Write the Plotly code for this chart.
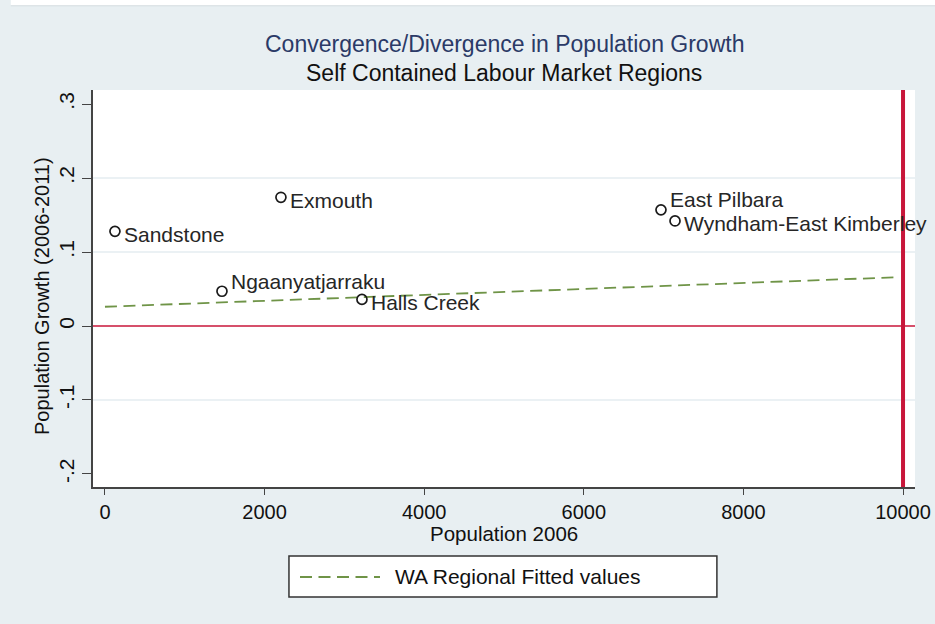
import plotly.graph_objects as go

# Regions: 2006 population and 2006-2011 population growth
regions = ["Sandstone", "Exmouth", "Ngaanyatjarraku", "Halls Creek",
           "East Pilbara", "Wyndham-East Kimberley"]
population_2006 = [125, 2205, 1466, 3220, 6967, 7143]
growth = [0.128, 0.174, 0.047, 0.036, 0.157, 0.142]
# Label placement: raised labels sit above-right of their marker
label_raised = [False, False, True, False, True, False]

# WA regional fitted values (linear fit endpoints)
fit_x = [0, 9950]
fit_y = [0.026, 0.066]

y_ticks = [-0.2, -0.1, 0, 0.1, 0.2, 0.3]
y_tick_text = ["-.2", "-.1", "0", ".1", ".2", ".3"]
x_ticks = [0, 2000, 4000, 6000, 8000, 10000]
x_tick_text = ["0", "2000", "4000", "6000", "8000", "10000"]
grid_y = [-0.1, 0.1, 0.2]
ref_x = 10000
ref_y = 0

BG = "#e8eff2"
FONT = "Liberation Sans, Arial, sans-serif"
GREEN = "#6f9447"
RED = "#c8163a"
DASH = "12px,6.5px"

fig = go.Figure()

fig.add_trace(go.Scatter(
    x=fit_x, y=fit_y, mode="lines", name="WA Regional Fitted values",
    line=dict(color=GREEN, width=1.8, dash=DASH), showlegend=False))

fig.add_trace(go.Scatter(
    x=population_2006, y=growth, mode="markers", text=regions,
    marker=dict(symbol="circle-open", size=10, color="#1a1a1a",
                line=dict(width=1.7, color="#1a1a1a")),
    showlegend=False, cliponaxis=False))

shapes = []
for g in grid_y:
    shapes.append(dict(type="line", xref="paper", x0=0, x1=1, yref="y", y0=g, y1=g,
                       line=dict(color="#e4edf0", width=1.5), layer="below"))
shapes.append(dict(type="line", xref="paper", x0=0, x1=1, yref="y", y0=ref_y, y1=ref_y,
                   line=dict(color=RED, width=1.5)))
shapes.append(dict(type="line", xref="x", x0=ref_x, x1=ref_x, yref="paper", y0=0, y1=1,
                   line=dict(color=RED, width=4)))
# Legend box
shapes.append(dict(type="rect", xref="paper", yref="paper",
                   x0=0.2384, x1=0.759, y0=-0.277, y1=-0.1738,
                   line=dict(color="#333333", width=1.5), fillcolor="white"))
shapes.append(dict(type="line", xref="paper", yref="paper",
                   x0=(300 - 93) / 822, x1=(380 - 93) / 822, y0=-0.2267, y1=-0.2267,
                   line=dict(color=GREEN, width=2, dash=DASH)))
# White strip along the top edge
shapes.append(dict(type="rect", xref="paper", yref="paper",
                   x0=-0.1, x1=1.05, y0=1.214, y1=1.23,
                   line=dict(width=0), fillcolor="white", layer="below"))
shapes.append(dict(type="line", xref="paper", yref="paper",
                   x0=-0.1, x1=1.05, y0=1.212, y1=1.212,
                   line=dict(color="#d8dfe2", width=1), layer="below"))

annotations = [
    dict(text="Convergence/Divergence in Population Growth", xref="paper", yref="paper",
         x=0.5, y=(487 - 44) / 397, xanchor="center", yanchor="middle", showarrow=False,
         font=dict(family=FONT, size=23, color="#2b3a67")),
    dict(text="Self Contained Labour Market Regions", xref="paper", yref="paper",
         x=0.5, y=(487 - 73) / 397, xanchor="center", yanchor="middle", showarrow=False,
         font=dict(family=FONT, size=23, color="#111111")),
    dict(text="WA Regional Fitted values", xref="paper", yref="paper",
         x=(393 - 93) / 822, y=-0.2267, xanchor="left", yanchor="middle", showarrow=False,
         font=dict(family=FONT, size=21, color="#111111")),
    # Axis titles
    dict(text="Population 2006", xref="paper", yref="paper",
         x=(504 - 93) / 822, y=(487 - 533) / 397, xanchor="center", yanchor="middle",
         showarrow=False, font=dict(family=FONT, size=20.5, color="#111111")),
    dict(text="Population Growth (2006-2011)", xref="paper", yref="paper",
         x=(42 - 93) / 822, y=(487 - 296) / 397, xanchor="center", yanchor="middle",
         textangle=-90, showarrow=False,
         font=dict(family=FONT, size=20, color="#111111")),
]

# Point labels, placed at each marker's data position
for name, px, gy, raised in zip(regions, population_2006, growth, label_raised):
    annotations.append(dict(
        text=name, x=px, y=gy, xref="x", yref="y", showarrow=False,
        xanchor="left", yanchor="middle", xshift=7, yshift=10 if raised else -3,
        font=dict(family=FONT, size=21, color="#262626")))

fig.update_layout(
    width=935, height=624,
    margin=dict(l=93, r=20, t=90, b=137),
    paper_bgcolor=BG, plot_bgcolor="white",
    font=dict(family=FONT, size=20, color="#111111"),
    shapes=shapes, annotations=annotations,
    xaxis=dict(range=[-150, 10150], tickvals=x_ticks, ticktext=x_tick_text,
               ticks="outside", ticklen=6, automargin=False,
               tickfont=dict(size=20),
               tickcolor="#444", showline=True, linecolor="#444", linewidth=1.5,
               showgrid=False, zeroline=False),
    yaxis=dict(range=[-0.2176, 0.319], tickvals=y_ticks, ticktext=y_tick_text,
               tickangle=-90, ticks="outside", ticklen=9, automargin=False,
               tickfont=dict(size=21),
               tickcolor="#444",
               showline=True, linecolor="#444", linewidth=1.5,
               showgrid=False, zeroline=False),
)

fig.write_html("out.html")
